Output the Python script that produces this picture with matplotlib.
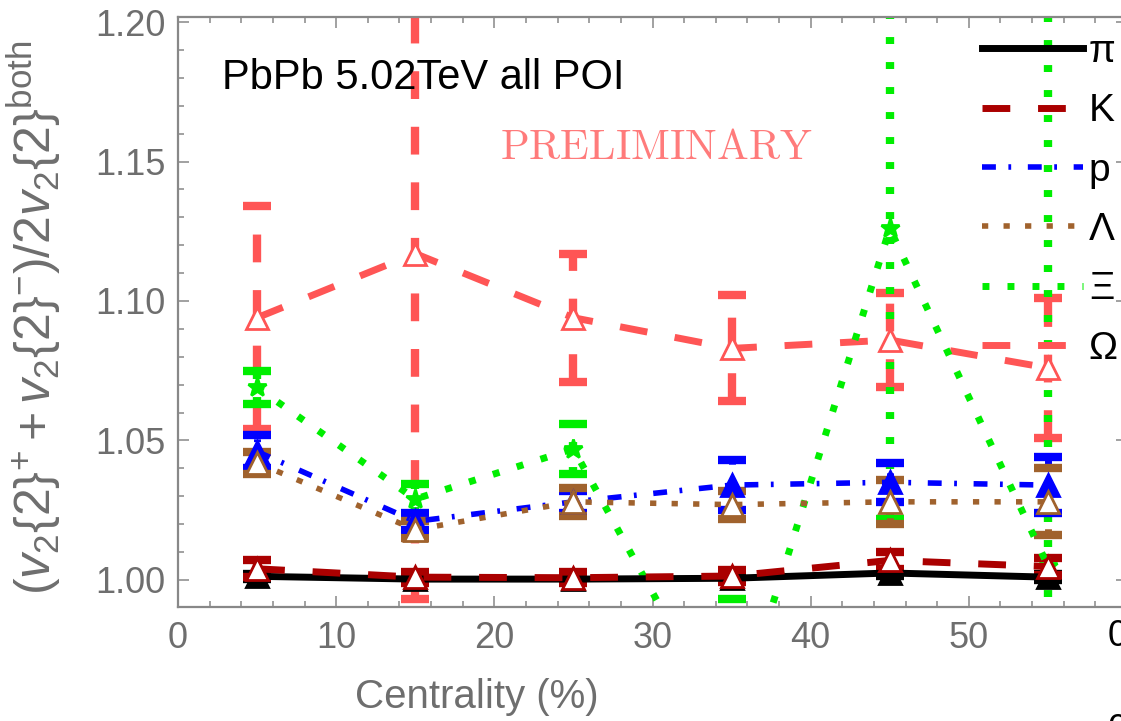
import matplotlib
matplotlib.use("Agg")
import matplotlib.pyplot as plt
from matplotlib.lines import Line2D
from matplotlib.ticker import MultipleLocator, FixedLocator, FormatStrFormatter

plt.rcParams['font.family'] = ['Liberation Sans', 'DejaVu Sans']
plt.rcParams['mathtext.fontset'] = 'custom'
plt.rcParams['mathtext.rm'] = 'Liberation Sans'
plt.rcParams['mathtext.it'] = 'Liberation Sans:italic'
plt.rcParams['lines.scale_dashes'] = False

# centrality bins (%)
centrality = [5, 15, 25, 35, 45, 55]

# ratio values and uncertainties per species
pi_val = [1.0013, 1.0003, 1.0003, 1.0006, 1.0025, 1.0010]
pi_err = [0.0010, 0.0008, 0.0008, 0.0008, 0.0012, 0.0010]
k_val = [1.0040, 1.0010, 1.0008, 1.0014, 1.0070, 1.0048]
k_err = [0.0030, 0.0020, 0.0020, 0.0020, 0.0030, 0.0030]
p_val = [1.046, 1.021, 1.028, 1.034, 1.035, 1.034]
p_err = [0.006, 0.003, 0.004, 0.009, 0.007, 0.010]
lam_val = [1.042, 1.018, 1.028, 1.027, 1.028, 1.028]
lam_err = [0.004, 0.003, 0.005, 0.005, 0.008, 0.012]
xi_val = [1.069, 1.029, 1.047, 0.944, 1.126, 1.005]
xi_err = [0.006, 0.0055, 0.009, 0.049, 0.104, 0.25]
om_val = [1.094, 1.117, 1.094, 1.083, 1.086, 1.076]
om_err = [0.040, 0.124, 0.023, 0.019, 0.017, 0.025]

labels = ['π', 'K', 'p', 'Λ', 'Ξ', 'Ω']

# (values, errors, color, dash style, marker, filled?, linewidth)
series = {
    'Omega': (om_val, om_err, '#ff5555', (0, (20, 20)), '^', False, 5),
    'Xi': (xi_val, xi_err, '#00ee00', (0, (5, 13)), '*', True, 5),
    'p': (p_val, p_err, '#0000ff', (0, (10, 9, 2, 12)), '^', True, 4),
    'Lambda': (lam_val, lam_err, '#a0622d', (0, (4.5, 11)), '^', False, 4),
    'pi': (pi_val, pi_err, 'black', '-', '^', True, 5),
    'K': (k_val, k_err, '#aa0000', (0, (20, 20)), '^', False, 5),
}

fig = plt.figure(figsize=(11.21, 7.21), dpi=100)
W, H = 1121, 721
x0, x1, y0, y1 = 178, 1127, 17, 607
ax = fig.add_axes([x0 / W, (H - y1) / H, (x1 - x0) / W, (y1 - y0) / H])

for name, (vals, errs, c, ls, mk, filled, lw) in series.items():
    eb = ax.errorbar(centrality, vals, yerr=errs, color=c, linestyle=ls, lw=lw,
                     marker=mk, markersize=16 if mk == '^' else 14,
                     markerfacecolor=c if filled else 'white',
                     markeredgecolor=c, markeredgewidth=2,
                     elinewidth=lw + 1, capsize=10)
    for cap in eb[1]:
        cap.set_markeredgewidth(6)
    for bl in eb[2]:
        bl.set_linestyle(ls)

ax.set_xlim(0, 60)
ax.set_ylim(0.9903, 1.2018)
ax.xaxis.set_major_locator(FixedLocator([0, 10, 20, 30, 40, 50]))
ax.xaxis.set_minor_locator(MultipleLocator(2))
ax.yaxis.set_major_locator(MultipleLocator(0.05))
ax.yaxis.set_minor_locator(MultipleLocator(0.01))
ax.yaxis.set_major_formatter(FormatStrFormatter('%.2f'))

gray = '#6e6e6e'
for s in ax.spines.values():
    s.set_color('#888888')
    s.set_linewidth(1.6)
ax.tick_params(which='both', direction='in', top=True, right=True,
               color='#888888', width=1.1, labelcolor=gray, labelsize=26)
ax.tick_params(which='major', length=8)
ax.tick_params(which='minor', length=4.5, right=False)
ax.tick_params(axis='x', pad=10)
ax.tick_params(axis='y', pad=9)

ax.set_xlabel('Centrality (%)', fontsize=29, color=gray)
ax.xaxis.set_label_coords(0.315, -0.12)
ax.set_ylabel(r'$(v_2\{2\}^{+}+v_2\{2\}^{-})/2v_2\{2\}^{\mathrm{both}}$',
              fontsize=36, color=gray)
ax.yaxis.set_label_coords(-0.12, 0.49)

ax.text(0.046, 0.897, 'PbPb 5.02TeV all POI', transform=ax.transAxes,
        fontsize=30, color='black', va='center', ha='left')
ax.text(0.339, 0.778, r'$\mathrm{PRELIMINARY}$', transform=ax.transAxes,
        fontsize=30.5, color='#ff7b7b', va='center', ha='left',
        math_fontfamily='cm')

# legend with line samples only
order = ['pi', 'K', 'p', 'Lambda', 'Xi', 'Omega']
handles = [Line2D([], [], color=series[n][2], linestyle=series[n][3],
                  lw=series[n][6]) for n in order]
leg = ax.legend(handles, labels, loc='upper left',
                bbox_to_anchor=(978 / W, (H - 30) / H),
                bbox_transform=fig.transFigure, fontsize=28,
                handlelength=2.6, handletextpad=0.15, labelspacing=0.6,
                borderpad=0.1, borderaxespad=0, frameon=False)
leg.set_zorder(10)

# stray tick digits of the neighbouring panel
fig.text(1108 / W, (H - 636) / H, '0', fontsize=26, color='black',
         va='center', ha='left')
fig.text(1108 / W, (H - 730) / H, '0', fontsize=26, color='black',
         va='center', ha='left')

fig.savefig('out.png', dpi=100)
